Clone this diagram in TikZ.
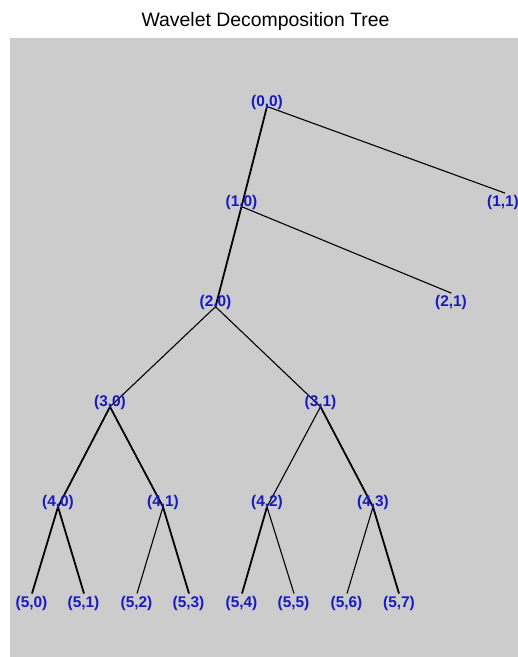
\documentclass[tikz,border=0pt]{standalone}
\usepackage{fontspec}
\setmainfont{Liberation Sans}
\definecolor{lblue}{RGB}{25,25,195}
\definecolor{bggray}{RGB}{204,204,204}
\tikzset{
  lbl/.style={text=lblue, font=\fontsize{15.5}{17}\selectfont\bfseries, anchor=base, inner sep=0pt},
  edge/.style={draw=black, line width=1.1bp},
  edgethick/.style={draw=black, line width=1.8bp},
  ttl/.style={font=\fontsize{19.5}{22}\selectfont, anchor=base, inner sep=0pt}
}
\begin{document}
\begin{tikzpicture}[x=1bp,y=-1bp]
\useasboundingbox (0,0) rectangle (518,657);
\fill[bggray] (10,38) rectangle (518,657);
\node[ttl] (title) at (265.5,26.7) {Wavelet Decomposition Tree};

% vertices
\coordinate (v00) at (267,106.5);
\coordinate (v10) at (241.5,206.6);
\coordinate (v11) at (505,193.1);
\coordinate (v20) at (215.5,306.7);
\coordinate (v21) at (451.5,293.2);
\coordinate (v30) at (110,406.8);
\coordinate (v31) at (320.5,406.8);
\coordinate (v40) at (58,506.9);
\coordinate (v41) at (163,506.9);
\coordinate (v42) at (267,506.9);
\coordinate (v43) at (373,506.9);
\coordinate (v50) at (32,593.5);
\coordinate (v51) at (84,593.5);
\coordinate (v52) at (137,593.5);
\coordinate (v53) at (189,593.5);
\coordinate (v54) at (242,593.5);
\coordinate (v55) at (294,593.5);
\coordinate (v56) at (347,593.5);
\coordinate (v57) at (399,593.5);

% edges
\draw[edgethick] (v00) -- (v10);
\draw[edge] (v00) -- (v11);
\draw[edgethick] (v10) -- (v20);
\draw[edge] (v10) -- (v21);
\draw[edge] (v20) -- (v30);
\draw[edge] (v20) -- (v31);
\draw[edgethick] (v30) -- (v40);
\draw[edgethick] (v30) -- (v41);
\draw[edge] (v31) -- (v42);
\draw[edgethick] (v31) -- (v43);
\draw[edgethick] (v40) -- (v50);
\draw[edgethick] (v40) -- (v51);
\draw[edge] (v41) -- (v52);
\draw[edgethick] (v41) -- (v53);
\draw[edgethick] (v42) -- (v54);
\draw[edge] (v42) -- (v55);
\draw[edge] (v43) -- (v56);
\draw[edgethick] (v43) -- (v57);

% labels
\node[lbl] (l00) at (267,106.5) {(0,0)};
\node[lbl] (l10) at (241.5,206.6) {(1,0)};
\node[lbl] (l11) at (503,206.6) {(1,1)};
\node[lbl] (l20) at (215.5,306.7) {(2,0)};
\node[lbl] (l21) at (451,306.7) {(2,1)};
\node[lbl] (l30) at (110,406.8) {(3,0)};
\node[lbl] (l31) at (320.5,406.8) {(3,1)};
\node[lbl] (l40) at (58,506.9) {(4,0)};
\node[lbl] (l41) at (163,506.9) {(4,1)};
\node[lbl] (l42) at (267,506.9) {(4,2)};
\node[lbl] (l43) at (373,506.9) {(4,3)};
\node[lbl] (l50) at (31.5,607) {(5,0)};
\node[lbl] (l51) at (83.5,607) {(5,1)};
\node[lbl] (l52) at (136.5,607) {(5,2)};
\node[lbl] (l53) at (188.5,607) {(5,3)};
\node[lbl] (l54) at (241.5,607) {(5,4)};
\node[lbl] (l55) at (293.5,607) {(5,5)};
\node[lbl] (l56) at (346.5,607) {(5,6)};
\node[lbl] (l57) at (399,607) {(5,7)};
\end{tikzpicture}
\end{document}
